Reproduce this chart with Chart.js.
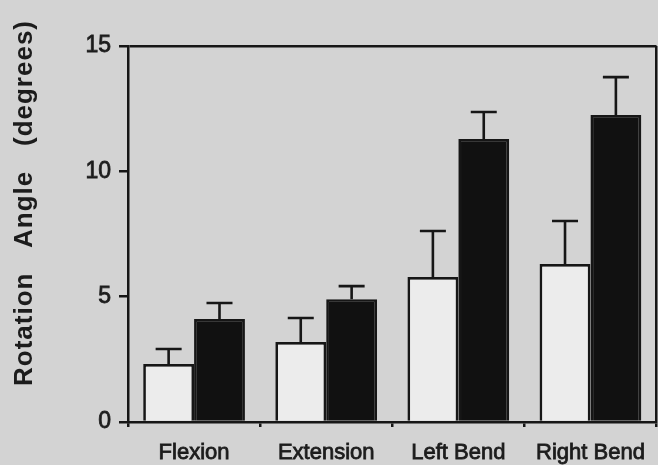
<!DOCTYPE html>
<html>
<head>
<meta charset="utf-8">
<script src="https://cdn.jsdelivr.net/npm/chart.js@4.4.1/dist/chart.umd.min.js"></script>
<style>
  html, body { margin: 0; padding: 0; background: #d3d3d3; }
  #wrap { width: 658px; height: 465px; position: relative; }
</style>
</head>
<body>
<div id="wrap"><canvas id="c" width="658" height="465"></canvas></div>
<script>
const categories = ["Flexion", "Extension", "Left Bend", "Right Bend"];
const whiteMeans = [2.31, 3.19, 5.78, 6.30];
const whiteErr   = [0.60, 0.96, 1.84, 1.72];
const blackMeans = [4.11, 4.90, 11.29, 12.25];
const blackErr   = [0.64, 0.52, 1.08, 1.51];
const yTicks = [0, 5, 10, 15];
const yTitle = "Rotation   Angle   (degrees)";

const INK = '#161616';
const TXT = '#1c1c1c';
const FONT = '"Liberation Sans", Arial, Helvetica, sans-serif';

const errorBars = {
  id: 'errorBars',
  afterDatasetsDraw(chart) {
    const ctx = chart.ctx;
    const yScale = chart.scales.y;
    ctx.save();
    ctx.strokeStyle = INK;
    ctx.lineWidth = 2.6;
    chart.data.datasets.forEach((ds, di) => {
      const meta = chart.getDatasetMeta(di);
      meta.data.forEach((bar, i) => {
        const top = yScale.getPixelForValue(ds.data[i] + ds.errors[i]);
        const half = 13;
        ctx.beginPath();
        ctx.moveTo(bar.x, bar.y);
        ctx.lineTo(bar.x, top);
        ctx.moveTo(bar.x - half, top);
        ctx.lineTo(bar.x + half, top);
        ctx.stroke();
      });
    });
    ctx.restore();
  }
};

const titlePlugin = {
  id: 'yTitle',
  afterDraw(chart) {
    const ctx = chart.ctx;
    ctx.save();
    ctx.translate(32, 203);
    ctx.rotate(-Math.PI / 2);
    ctx.font = 'bold 26px ' + FONT;
    ctx.letterSpacing = '1px';
    ctx.fillStyle = TXT;
    ctx.textAlign = 'center';
    ctx.textBaseline = 'alphabetic';
    ctx.fillText(yTitle, 0, 0);
    ctx.restore();
  }
};

new Chart(document.getElementById('c'), {
  type: 'bar',
  data: {
    labels: categories,
    datasets: [
      { data: whiteMeans, errors: whiteErr, backgroundColor: '#ececec', borderColor: INK, borderWidth: 2.7,
        barPercentage: 1.0, categoryPercentage: 0.77 },
      { data: blackMeans, errors: blackErr, backgroundColor: '#111111', borderColor: INK, borderWidth: 2.7,
        barPercentage: 1.0, categoryPercentage: 0.77 }
    ]
  },
  options: {
    responsive: false,
    animation: false,
    devicePixelRatio: 1,
    layout: { padding: { top: 46, right: 1, left: 0, bottom: 0 } },
    plugins: { legend: { display: false }, tooltip: { enabled: false } },
    scales: {
      x: {
        afterFit(s) { s.height = 43; },
        grid: {
          offset: true,
          drawOnChartArea: true,
          color: c => c.type === 'scale' ? INK : 'rgba(0,0,0,0)',
          tickColor: INK,
          tickLength: 5,
          lineWidth: 2.5
        },
        border: { display: true, color: INK, width: 2.5 },
        ticks: { color: TXT, font: { family: FONT, size: 22 }, padding: 13, maxRotation: 0,
                 textStrokeColor: TXT, textStrokeWidth: 0.8 }
      },
      y: {
        min: 0, max: 15,
        afterFit(s) { s.width = 128; },
        afterBuildTicks(s) { s.ticks = yTicks.map(v => ({ value: v })); },
        grid: {
          drawOnChartArea: true,
          color: c => (c.tick && c.tick.value === 15) ? INK : 'rgba(0,0,0,0)',
          tickColor: INK,
          tickLength: 9,
          lineWidth: 2.5
        },
        border: { display: true, color: INK, width: 2.5 },
        ticks: { color: TXT, font: { family: FONT, size: 23 }, padding: 8,
                 textStrokeColor: TXT, textStrokeWidth: 0.8 }
      }
    }
  },
  plugins: [errorBars, titlePlugin]
});
</script>
</body>
</html>
